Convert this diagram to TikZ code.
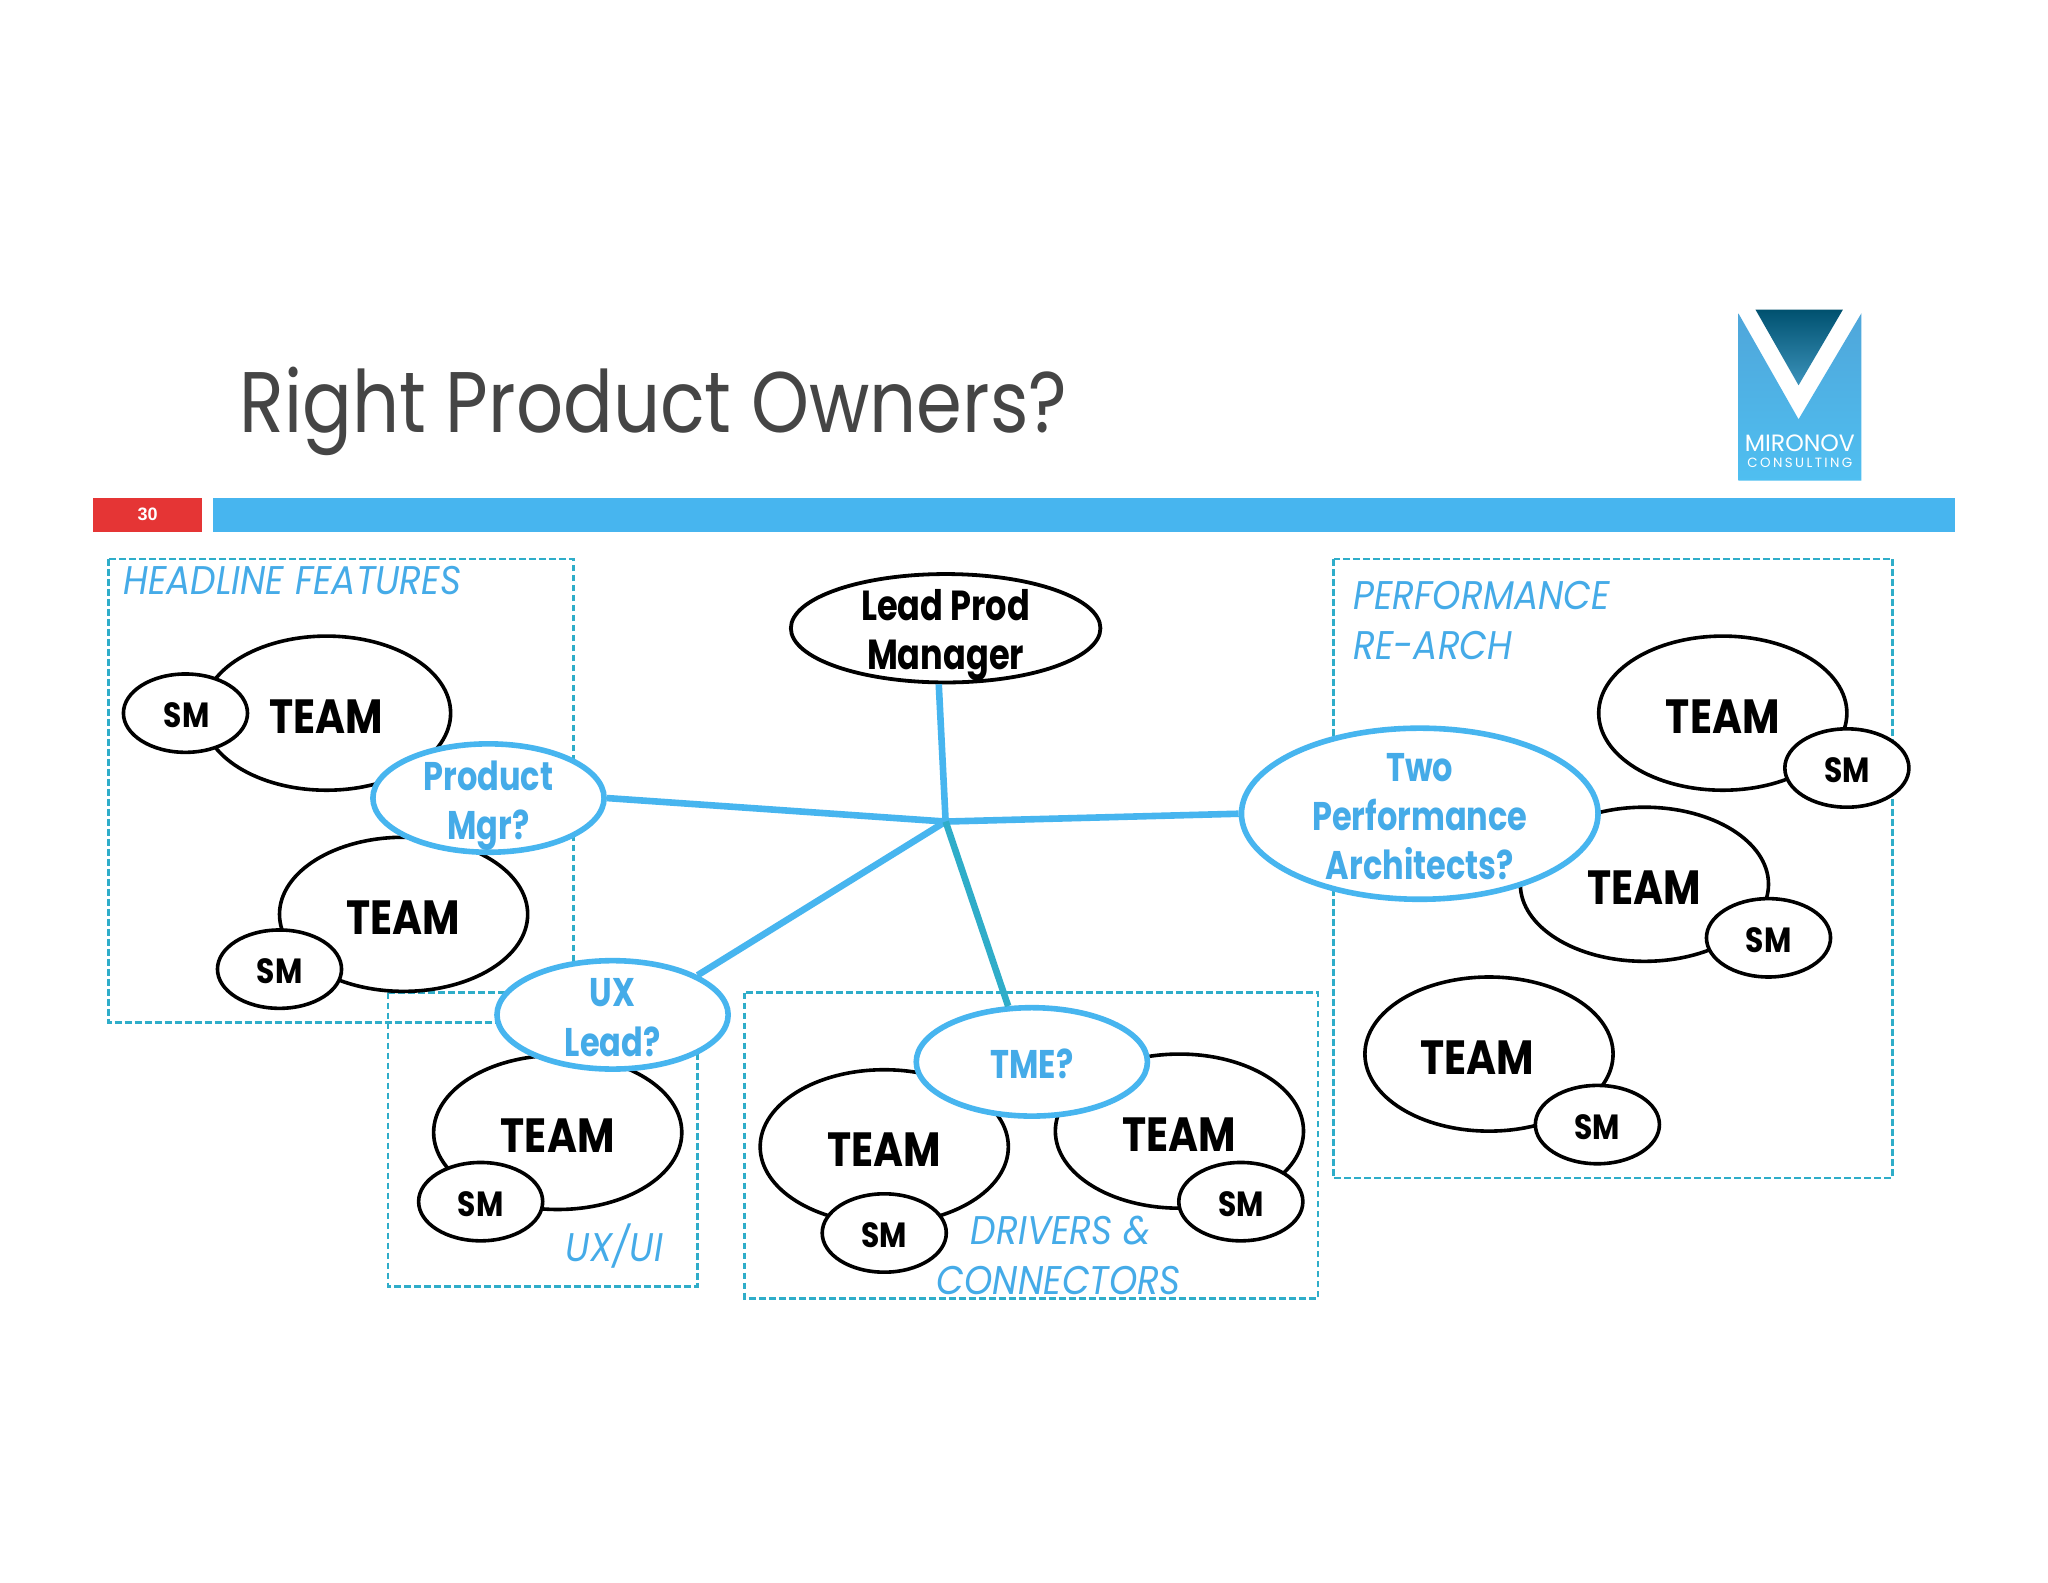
\documentclass[tikz,border=0pt]{standalone}
\usepackage{fontspec}
\usetikzlibrary{shapes.geometric}
\setmainfont{Liberation Sans}
\newfontfamily\titlefont{Poppins}[FakeStretch=0.857]
\newfontfamily\boldfont{Poppins}[FakeStretch=0.80,BoldFont=* Bold]
\newfontfamily\teamfont{Poppins}[FakeStretch=0.85,BoldFont=* Bold]
\newfontfamily\labelfont{Poppins}[FakeStretch=0.90,ItalicFont=* Italic]
\newfontfamily\logofont{Poppins}
\definecolor{barblue}{HTML}{47B5EF}
\definecolor{barred}{HTML}{E53535}
\definecolor{dashteal}{HTML}{2FADC9}
\definecolor{txtblue}{HTML}{45ABE8}
\definecolor{titlegray}{HTML}{454545}
\definecolor{logotop}{HTML}{4FA6DA}
\definecolor{logobot}{HTML}{4FBFF1}
\definecolor{vtop}{HTML}{00516F}
\definecolor{vbot}{HTML}{3C93BC}
\newdimen\un \un=0.65306pt
% text centred on the node without enlarging its ellipse
\newcommand\ctr[1]{\makebox[0pt]{\smash{\raisebox{-.42em}{#1}}}}
\newcommand\ctrs[1]{\makebox[0pt]{\smash{\raisebox{-8.6pt}{\begin{tabular}{@{}c@{}}#1\end{tabular}}}}}
\tikzset{
  teamnode/.style={ellipse,draw=black,fill=white,line width=1.8pt,minimum width=190\un,minimum height=118\un,inner sep=0pt,font=\teamfont\bfseries\fontsize{24}{24}\selectfont},
  smnode/.style={ellipse,draw=black,fill=white,line width=1.8pt,minimum width=95\un,minimum height=60\un,inner sep=0pt,font=\teamfont\bfseries\fontsize{17.5}{17.5}\selectfont},
  leadnode/.style={ellipse,draw=black,fill=white,line width=1.9pt,minimum width=237\un,minimum height=83\un,inner sep=0pt,font=\boldfont\bfseries\fontsize{21}{24.6}\selectfont},
  ownernode/.style={ellipse,draw=barblue,fill=white,line width=2.8pt,minimum width=177\un,minimum height=83\un,inner sep=0pt,text=txtblue,font=\boldfont\bfseries\fontsize{20}{24.6}\selectfont},
  groupbox/.style={draw=dashteal,line width=1.25pt,dash pattern=on 3.4pt off 1.6pt},
  grouplabel/.style={anchor=base west,inner sep=0pt,text=txtblue,font=\labelfont\itshape\fontsize{20}{20}\selectfont},
  link/.style={draw=barblue,line width=3.3pt},
  link2/.style={draw=dashteal,line width=3.3pt}
}
\begin{document}
\begin{tikzpicture}[x=\un,y=-\un]
\useasboundingbox (0,0) rectangle (1568,1211.27);
\fill[white] (0,0) rectangle (1568,1211.27);
% title
\node[anchor=base west,inner sep=0pt,text=titlegray,font=\titlefont\fontsize{43}{43}\selectfont] (title) at (183,331) {Right Product Owners?};
% bars
\fill[barred] (71,381) rectangle (155,407);
\node[inner sep=0pt,text=white,font=\bfseries\fontsize{9}{9}\selectfont] (num) at (113,393.5) {30};
\fill[barblue] (163,381) rectangle (1497,407);
% logo
\shade[top color=logotop,bottom color=logobot]
  (1331,240) -- (1377,321) -- (1425,240) -- (1425,368) -- (1331,368) -- cycle;
\shade[top color=vtop,bottom color=vbot]
  (1344,237) -- (1411,237) -- (1377,295) -- cycle;
\node[inner sep=0pt,text=white,anchor=base,font=\logofont\fontsize{11.8}{11.8}\selectfont] (logo1) at (1378,346) {MIRONOV};
\node[inner sep=0pt,text=white,anchor=base,font=\logofont\fontsize{6.7}{6.7}\selectfont] (logo2) at (1378,358) {\addfontfeatures{LetterSpace=18}CONSULTING};
% group boxes
\draw[groupbox] (83,428) rectangle (439,783);
\draw[groupbox] (297,760) rectangle (534,985);
\draw[groupbox] (570,760) rectangle (1009,994);
\draw[groupbox] (1021,428) rectangle (1449,902);
% group labels
\node[grouplabel] (lh) at (94,455) {HEADLINE FEATURES};
\node[grouplabel] (lp1) at (1036,467) {PERFORMANCE};
\node[grouplabel] (lp2) at (1036,505) {RE-ARCH};
\node[grouplabel] (lu) at (433,966) {UX/UI};
\node[grouplabel] (ld1) at (743,953) {DRIVERS \&};
\node[grouplabel] (ld2) at (717,991) {CONNECTORS};
% teams
\node[teamnode] (t1) at (250,546) {\ctr{TEAM}};
\node[smnode] (s1) at (142,546) {\hspace{2\un}\ctr{SM}};
\node[teamnode] (t2) at (309,700) {\ctr{TEAM}};
\node[smnode] (s2) at (214,742) {\ctr{SM}};
\node[teamnode] (t3) at (427,867) {\ctr{TEAM}};
\node[smnode] (s3) at (368,920) {\ctr{SM}};
\node[teamnode] (t4) at (677,878) {\ctr{TEAM}};
\node[smnode] (s4) at (677,944) {\ctr{SM}};
\node[teamnode] (t5) at (903,866) {\ctr{TEAM}};
\node[smnode] (s5) at (950,920) {\ctr{SM}};
\node[teamnode] (t6) at (1319,546) {\ctr{TEAM}};
\node[smnode] (s6) at (1414,588) {\ctr{SM}};
\node[teamnode] (t7) at (1259,677) {\ctr{TEAM}};
\node[smnode] (s7) at (1354,718) {\ctr{SM}};
\node[teamnode] (t8) at (1140,807) {\hspace{-18\un}\ctr{TEAM}};
\node[smnode] (s8) at (1223,861) {\ctr{SM}};
% owners
\node[leadnode] (lead) at (724,481) {\ctrs{Lead Prod\\Manager}};
\node[ownernode] (pm) at (374,611) {\ctrs{Product\\Mgr?}};
\node[ownernode] (ux) at (469,777) {\ctrs{UX\\Lead?}};
\node[ownernode] (tme) at (790,813) {\ctrs{TME?}};
\node[ownernode,minimum width=273\un,minimum height=131\un] (arch) at (1087,623) {\ctrs{Two\\Performance\\Architects?}};
% connectors
\coordinate (hub) at (724,629);
\draw[link] (hub) -- (lead.263);
\draw[link] (hub) -- (pm.east);
\draw[link] (hub) -- (arch.west);
\draw[link] (hub) -- (ux.25);
\draw[link2] (hub) -- (tme.113);
\end{tikzpicture}
\end{document}
